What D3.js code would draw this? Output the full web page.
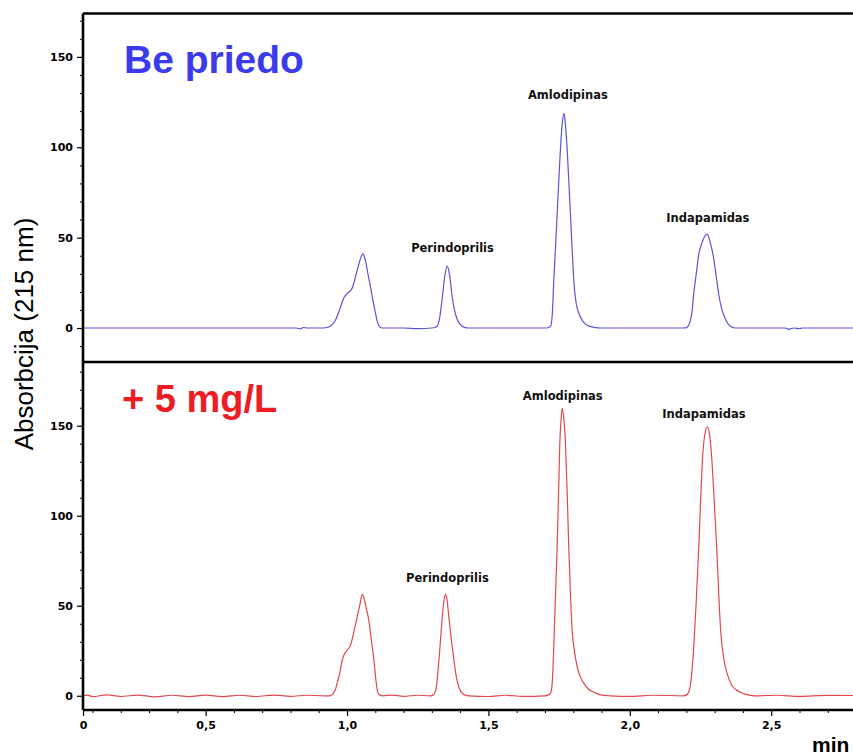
<!DOCTYPE html>
<html>
<head>
<meta charset="utf-8">
<script src="https://cdn.jsdelivr.net/npm/d3@7/dist/d3.min.js"></script>
<style>
  html, body { margin: 0; padding: 0; background: #fff; }
  svg { display: block; }
</style>
</head>
<body>
<svg id="chart" width="853" height="755"></svg>
<script>
// ---------------- DATA ----------------
// Upper chromatogram "Be priedo" (time, min / absorbance)
const timeTop = [0.00, 0.30, 0.82, 0.835, 0.845, 0.86, 0.90, 0.93, 0.945, 0.959, 0.977, 0.989, 1.003, 1.018, 1.036, 1.05, 1.056, 1.064, 1.074, 1.083, 1.092, 1.101, 1.108, 1.115, 1.125,
  1.20, 1.25, 1.30, 1.312, 1.319, 1.328, 1.337, 1.346, 1.354, 1.363, 1.372, 1.38, 1.389, 1.40, 1.413, 1.43,
  1.70, 1.713, 1.72, 1.726, 1.731, 1.737, 1.743, 1.749, 1.755, 1.761, 1.767, 1.772, 1.778, 1.784, 1.79, 1.796, 1.802, 1.81, 1.82, 1.835, 1.849, 1.87, 1.90,
  2.19, 2.203, 2.212, 2.22, 2.226, 2.235, 2.244, 2.255, 2.264, 2.274, 2.284, 2.297, 2.306, 2.315, 2.326, 2.338, 2.356, 2.375,
  2.55, 2.56, 2.58, 2.60, 2.61, 3.00];
const absTop = [0, 0, 0, -0.5, 0.3, 0, 0, 0.3, 1.5, 4.3, 11.6, 16.8, 19.5, 22, 32, 39.5, 41.2, 38, 30, 22.7, 15, 8, 3, 0.8, 0,
  0, -0.3, 0, 0.3, 1, 6, 17, 29, 34.2, 29, 17, 10, 5, 2, 0.5, 0,
  0, 0.3, 1, 8, 26, 44, 63, 82, 100, 113, 118.7, 113, 100, 82, 63, 44, 26, 14, 8, 3.5, 1.5, 0.5, 0,
  0, 0.5, 3, 9, 19, 30, 41, 47, 50.5, 51.9, 47.5, 38, 28, 18, 10, 5, 1, 0,
  0, -0.6, 0, -0.4, 0, 0];

// Lower chromatogram "+ 5 mg/L"
const timeBottom = [0.00, 0.05, 0.10, 0.15, 0.20, 0.26, 0.32, 0.38, 0.44, 0.50, 0.56, 0.62, 0.68, 0.74, 0.80, 0.86, 0.92, 0.94, 0.95, 0.958, 0.965, 0.975, 0.983, 0.989, 1.00, 1.012, 1.025, 1.036, 1.046, 1.054, 1.062, 1.069, 1.077, 1.086, 1.095, 1.102, 1.107, 1.112, 1.125,
  1.16, 1.20, 1.25, 1.295, 1.305, 1.315, 1.325, 1.337, 1.343, 1.348, 1.354, 1.36, 1.369, 1.378, 1.386, 1.395, 1.404, 1.415, 1.43,
  1.50, 1.56, 1.62, 1.70, 1.713, 1.72, 1.726, 1.731, 1.737, 1.743, 1.748, 1.752, 1.757, 1.761, 1.766, 1.773, 1.779, 1.784, 1.79, 1.796, 1.805, 1.814, 1.825, 1.837, 1.855, 1.873, 1.896, 1.93,
  2.00, 2.08, 2.19, 2.20, 2.208, 2.216, 2.226, 2.235, 2.244, 2.25, 2.256, 2.265, 2.274, 2.283, 2.291, 2.299, 2.307, 2.314, 2.321, 2.332, 2.344, 2.36, 2.375, 2.391, 2.41, 2.44,
  2.52, 2.60, 2.70, 3.00];
const absBottom = [0, 0.4, -0.5, 0.5, -0.4, 0.4, -0.6, 0.3, -0.5, 0.4, -0.5, 0.3, -0.4, 0.4, -0.3, 0.3, 0, 0, 1, 3, 6.9, 13, 19.8, 22.6, 25.3, 28, 36, 43.9, 51, 56.3, 53, 48, 42, 31, 19.8, 9, 3.2, 0.8, 0,
  0.4, -0.3, 0.3, 0, 0.5, 4, 19.8, 43.9, 53, 56.5, 53, 43.9, 31, 19.8, 11, 5, 2, 0.5, 0,
  -0.4, 0.3, -0.3, 0, 0.5, 1.5, 8, 27, 55, 82.8, 112, 138, 154, 159.7, 155, 138, 110, 82.8, 57, 36.5, 24, 16, 10.5, 7, 3.5, 2, 0.5, 0,
  -0.3, 0.3, 0, 0.5, 2, 8, 27, 53, 82.8, 107, 129, 145, 149.4, 144, 129, 107, 82.8, 58, 36.5, 21, 12.4, 6, 3.5, 2, 0.8, 0,
  0.3, -0.3, 0.2, 0];

// Peak annotations (name, time, absorbance of label anchor)
const peakNames = ["Perindoprilis", "Amlodipinas", "Indapamidas"];
const labelTimeTop = [1.373, 1.781, 2.276];
const labelAbsTop = [42, 126.5, 58.5];
const labelTimeBottom = [1.355, 1.763, 2.262];
const labelAbsBottom = [63, 164.5, 154.5];

const panelTitles = ["Be priedo", "+ 5 mg/L"];
const yTickMajor = [0, 50, 100, 150];
const xTickMajor = [0, 0.5, 1.0, 1.5, 2.0, 2.5];
const yAxisTitle = "Absorbcija (215 nm)";
const xAxisTitle = "min";

// ---------------- LAYOUT ----------------
const svg = d3.select("#chart");
const left = 83, right = 940;
const topY0 = 13.5, midY = 362, botY1 = 710;

// x: the original axis labels its left frame edge "0"; real 0.1 spacing from 0.1 onward
const x = d3.scaleLinear().domain([0, 0.1, 3.0]).range([left, 92.5, 92.5 + 2.9 * 282.8]);
const yTop = d3.scaleLinear().domain([-18.8, 174]).range([midY, topY0]);
const yBot = d3.scaleLinear().domain([-7.9, 185.4]).range([botY1, midY]);

const blueLine = "#5656d6", redLine = "#e0484e";
const blueTitle = "#3b3bec", redTitle = "#ee1c24";

// clip paths
const defs = svg.append("defs");
defs.append("clipPath").attr("id", "clipTop").append("rect")
  .attr("x", left).attr("y", topY0).attr("width", right - left).attr("height", midY - topY0);
defs.append("clipPath").attr("id", "clipBot").append("rect")
  .attr("x", left).attr("y", midY).attr("width", right - left).attr("height", botY1 - midY);

function drawPanel(times, vals, y, color, clipId) {
  const pts = times.map((t, i) => [t, vals[i]]);
  const line = d3.line().x(d => x(d[0])).y(d => y(d[1])).curve(d3.curveMonotoneX);
  svg.append("path").datum(pts)
    .attr("clip-path", `url(#${clipId})`)
    .attr("fill", "none").attr("stroke", color).attr("stroke-width", 1.2)
    .attr("d", line);
}
drawPanel(timeTop, absTop, yTop, blueLine, "clipTop");
drawPanel(timeBottom, absBottom, yBot, redLine, "clipBot");

// y axes
function yAxes(y, minorLo, minorHi) {
  const minor = d3.range(minorLo, minorHi + 1, 10).filter(v => yTickMajor.indexOf(v) < 0);
  const gMin = svg.append("g").attr("transform", `translate(${left},0)`)
    .call(d3.axisLeft(y).tickValues(minor).tickSize(3).tickFormat(""));
  gMin.select(".domain").remove();
  gMin.selectAll("line").attr("stroke", "#000").attr("stroke-width", 1);
  const gMaj = svg.append("g").attr("transform", `translate(${left},0)`)
    .call(d3.axisLeft(y).tickValues(yTickMajor).tickSize(6).tickPadding(4).tickFormat(d3.format("d")));
  gMaj.select(".domain").remove();
  gMaj.selectAll("line").attr("stroke", "#000").attr("stroke-width", 1.2);
  gMaj.selectAll("text").attr("font-family", "DejaVu Sans").attr("font-weight", "bold")
    .attr("font-size", "11px").attr("fill", "#000");
}
yAxes(yTop, -10, 170);
yAxes(yBot, 0, 180);

// x axis
const xMinor = d3.range(1, 28).map(d => d / 10).filter(v => Math.abs(v * 2 - Math.round(v * 2)) > 1e-6);
const gxMin = svg.append("g").attr("transform", `translate(0,${botY1})`)
  .call(d3.axisBottom(x).tickValues(xMinor).tickSize(3).tickFormat(""));
gxMin.select(".domain").remove();
gxMin.selectAll("line").attr("stroke", "#000").attr("stroke-width", 1);
const gx = svg.append("g").attr("transform", `translate(0,${botY1})`)
  .call(d3.axisBottom(x).tickValues(xTickMajor).tickSize(6).tickPadding(5)
    .tickFormat(d => d === 0 ? "0" : d3.format(".1f")(d).replace(".", ",")));
gx.select(".domain").remove();
gx.selectAll("line").attr("stroke", "#000").attr("stroke-width", 1.2);
gx.selectAll("text").attr("font-family", "DejaVu Sans").attr("font-weight", "bold")
  .attr("font-size", "11px").attr("fill", "#000");

// frames
const frame = svg.append("g").attr("fill", "none").attr("stroke", "#000").attr("stroke-width", 2.6);
frame.append("line").attr("x1", left).attr("x2", left).attr("y1", topY0).attr("y2", botY1);
frame.append("line").attr("x1", left).attr("x2", 860).attr("y1", topY0).attr("y2", topY0);
frame.append("line").attr("x1", left).attr("x2", 860).attr("y1", midY).attr("y2", midY);
frame.append("line").attr("x1", left).attr("x2", 860).attr("y1", botY1).attr("y2", botY1);

// peak labels
function peakLabels(tArr, vArr, y) {
  svg.append("g").selectAll("text").data(peakNames).join("text")
    .attr("x", (d, i) => x(tArr[i])).attr("y", (d, i) => y(vArr[i]))
    .attr("text-anchor", "middle")
    .attr("font-family", "DejaVu Sans").attr("font-weight", "bold").attr("font-size", "11.5px")
    .attr("fill", "#111").text(d => d);
}
peakLabels(labelTimeTop, labelAbsTop, yTop);
peakLabels(labelTimeBottom, labelAbsBottom, yBot);

// panel titles
svg.append("text").attr("x", 124).attr("y", 73)
  .attr("font-family", "Liberation Sans, Arial, sans-serif").attr("font-weight", "bold")
  .attr("font-size", "39px").attr("fill", blueTitle).text(panelTitles[0]);
svg.append("text").attr("x", 122).attr("y", 412)
  .attr("font-family", "Liberation Sans, Arial, sans-serif").attr("font-weight", "bold")
  .attr("font-size", "38px").attr("fill", redTitle).text(panelTitles[1]);

// axis titles
svg.append("text").attr("transform", "translate(33,334) rotate(-90)")
  .attr("text-anchor", "middle")
  .attr("font-family", "Liberation Sans, Arial, sans-serif").attr("font-size", "26px")
  .attr("fill", "#000").text(yAxisTitle);
svg.append("text").attr("x", 812).attr("y", 752)
  .attr("font-family", "Liberation Sans, Arial, sans-serif").attr("font-weight", "bold")
  .attr("font-size", "21px").attr("fill", "#000").text(xAxisTitle);
</script>
</body>
</html>
